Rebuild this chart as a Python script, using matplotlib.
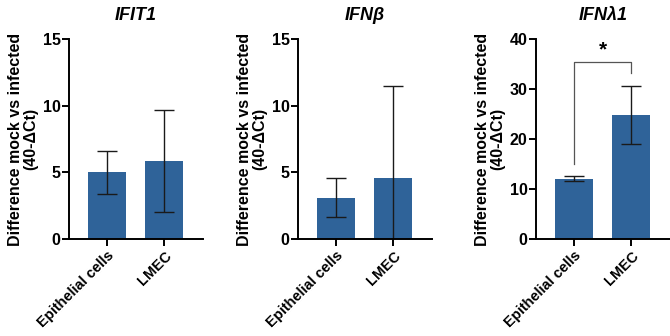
import matplotlib
matplotlib.use("Agg")
import matplotlib.pyplot as plt
import numpy as np

plt.rcParams['font.family'] = ['Liberation Sans', 'DejaVu Sans']

# data
groups = ["Epithelial cells", "LMEC"]
genes = ["IFIT1", "IFN\u03b2", "IFN\u03bb1"]
means_ifit1 = [5.0, 5.85]
err_ifit1 = [1.6, 3.8]
means_ifnb = [3.1, 4.6]
err_ifnb = [1.45, 6.85]
means_ifnl1 = [12.1, 24.9]
err_ifnl1 = [0.5, 5.8]
ymax = [15, 15, 40]
yticks = [[0, 5, 10, 15], [0, 5, 10, 15], [0, 10, 20, 30, 40]]
sig_label = "*"

means = [means_ifit1, means_ifnb, means_ifnl1]
errs = [err_ifit1, err_ifnb, err_ifnl1]

bar_col = "#2f6399"
fig = plt.figure(figsize=(6.7, 3.36), dpi=100)
lefts = [69, 298, 536]
W, H = 670, 336
for i in range(3):
    ax = fig.add_axes([lefts[i]/W, 1-239/H, 134/W, 200/H])
    x = np.arange(len(groups))
    ax.bar(x, means[i], width=0.67, color=bar_col, zorder=1)
    ax.errorbar(x, means[i], yerr=errs[i], fmt='none', ecolor='#1a1a1a',
                elinewidth=1.0, capsize=7, capthick=1.0, zorder=2)
    ax.set_xlim(-0.667, 1.68)
    ax.set_ylim(0, ymax[i])
    ax.set_yticks(yticks[i])
    ax.set_xticks(x)
    ax.set_xticklabels(groups, rotation=45, ha='right', rotation_mode='anchor',
                       fontsize=10.5, fontweight='bold')
    for lab in ax.get_yticklabels():
        lab.set_fontweight('bold')
        lab.set_fontsize(11.5)
    ax.tick_params(axis='both', direction='out', length=5, width=1.4, pad=2)
    ax.tick_params(axis='y', pad=1)
    for s in ['top', 'right']:
        ax.spines[s].set_visible(False)
    for s in ['left', 'bottom']:
        ax.spines[s].set_linewidth(1.4)
    ax.set_ylabel("Difference mock vs infected\n(40-\u0394Ct)", fontsize=11.5,
                  fontweight='bold', labelpad=3, linespacing=1.05)
    ax.set_title(genes[i], fontsize=13, fontweight='bold', style='italic', pad=14)
    ax.patch.set_alpha(0)

    if i == 2:
        top = 35.5
        ax.plot([0, 0, 1, 1], [15.1, top, top, 33.2], color='#555555', lw=0.9,
                clip_on=False)
        ax.text(0.5, top + 0.4, sig_label, ha='center', va='bottom',
                fontsize=15, fontweight='bold')

fig.savefig("out.png", dpi=100)
